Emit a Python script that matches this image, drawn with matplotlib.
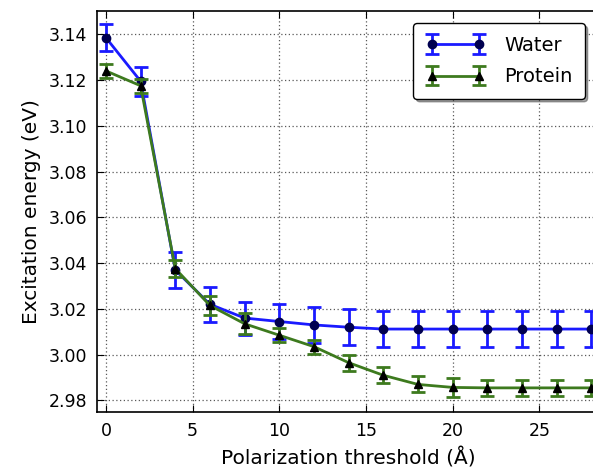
import matplotlib
matplotlib.use("Agg")
import matplotlib.pyplot as plt
import numpy as np

# polarization threshold (Angstrom)
threshold = np.arange(0, 30, 2)

water_energy = [3.1385, 3.1195, 3.037, 3.022, 3.016, 3.0145, 3.013, 3.012,
                3.0112, 3.0112, 3.0112, 3.0112, 3.0112, 3.0112, 3.0112]
water_err = [0.006, 0.0063, 0.0078, 0.0076, 0.0072, 0.0075, 0.0077, 0.0078,
             0.0078, 0.0078, 0.0078, 0.0078, 0.0078, 0.0078, 0.0078]

protein_energy = [3.124, 3.1175, 3.0376, 3.0215, 3.0135, 3.0085, 3.0035, 2.9965,
                  2.991, 2.987, 2.9857, 2.9855, 2.9855, 2.9855, 2.9855]
protein_err = [0.003, 0.003, 0.0037, 0.004, 0.0045, 0.003, 0.003, 0.0035,
               0.0035, 0.0035, 0.004, 0.0035, 0.0035, 0.0035, 0.0035]

fig = plt.figure(figsize=(5.93, 4.74), dpi=100)
ax = fig.add_axes([0.164, 0.131, 0.848, 0.845])

ax.errorbar(threshold, water_energy, yerr=water_err, color='#1a1aff', lw=2,
            marker='o', ms=6, mfc='#000050', mec='#000050', capsize=5,
            capthick=2, elinewidth=2, label='Water', zorder=3)
ax.errorbar(threshold, protein_energy, yerr=protein_err, color='#3d7a1e', lw=2,
            marker='^', ms=6, mfc='black', mec='black', capsize=5,
            capthick=2, elinewidth=2, label='Protein', zorder=4)

ax.set_xlim(-0.5, 28.5)
ax.set_ylim(2.975, 3.15)
ax.set_yticks(np.arange(2.98, 3.141, 0.02))
ax.set_xticks([0, 5, 10, 15, 20, 25])
ax.grid(True, color='0.35', linestyle=(0, (1, 2)), linewidth=0.9)
ax.tick_params(direction='in', top=True, right=True, labelsize=12.5, length=5, pad=7)
for s in ax.spines.values():
    s.set_linewidth(1.2)

ax.set_xlabel('Polarization threshold (Å)', fontsize=14.5, labelpad=6)
ax.set_ylabel('Excitation energy (eV)', fontsize=14.5, labelpad=6)

leg = ax.legend(loc='upper right', bbox_to_anchor=(0.989, 0.995), fontsize=14,
                fancybox=True, shadow=True, borderpad=0.65, handlelength=3.0,
                handletextpad=1.0, numpoints=2, labelspacing=0.65)
leg.get_frame().set_edgecolor('black')

fig.savefig('out.png', dpi=100)
